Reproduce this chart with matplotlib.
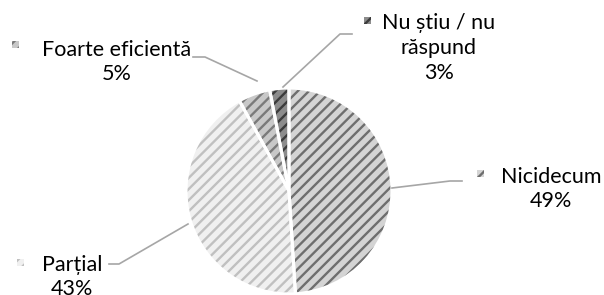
import matplotlib.pyplot as plt
from matplotlib.patches import Wedge

plt.rcParams['font.family'] = ['Lato', 'DejaVu Sans']
plt.rcParams['hatch.linewidth'] = 1.7

categories = ["Nicidecum", "Parțial", "Foarte eficientă", "Nu știu / nu\nrăspund"]
percents = [49, 43, 5, 3]
fill_colors = ["#d4d4d4", "#f0f0f0", "#c8c8c8", "#8c8c8c"]
hatch_colors = ["#6e6e6e", "#c0c0c0", "#7a7a7a", "#3c3c3c"]

# label centre, marker centre, leader line points (pixel coords, y down)
label_pos = [(551, 189), (72, 277), (117, 62), (439, 48)]
marker_pos = [(480, 173), (20, 262), (15, 44), (367, 20)]
leaders = [
    [(462, 181), (450, 181), (392, 188)],
    [(109, 264), (119, 264), (188, 224)],
    [(193, 57), (205, 57), (257, 81)],
    [(352, 34), (340, 34), (283, 87)],
]

W, H = 604, 295
fig = plt.figure(figsize=(W / 100, H / 100), dpi=100)
ax = fig.add_axes([0, 0, 1, 1])

cx, cy, r = 289, H - 191, 103
wedges, _ = ax.pie(percents, startangle=90, counterclock=False,
                   center=(cx, cy), radius=r, colors=fill_colors,
                   wedgeprops=dict(linewidth=0), frame=True)
ax.set_xlim(0, W)
ax.set_ylim(0, H)
ax.set_aspect('equal')
ax.axis('off')

for w, hc in zip(wedges, hatch_colors):
    ax.add_patch(Wedge(w.center, w.r, w.theta1, w.theta2, facecolor='none',
                       edgecolor=hc, hatch='///', linewidth=0))
for w in wedges:
    ax.add_patch(Wedge(w.center, w.r, w.theta1, w.theta2, facecolor='none',
                       edgecolor='white', linewidth=2.2))

for i, cat in enumerate(categories):
    pts = leaders[i]
    ax.plot([p[0] for p in pts], [H - p[1] for p in pts], color='#a6a6a6', lw=1.2)
    mx, my = marker_pos[i]
    ax.add_patch(plt.Rectangle((mx - 3.5, H - my - 3.5), 7, 7,
                               facecolor=fill_colors[i], edgecolor=hatch_colors[i],
                               hatch='///', linewidth=0))
    lx, ly = label_pos[i]
    ax.text(lx, H - ly, cat + "\n" + str(percents[i]) + "%", ha='center', va='center',
            fontsize=15.5, color='#000000', linespacing=1.3)

fig.savefig("out.png", dpi=100)
